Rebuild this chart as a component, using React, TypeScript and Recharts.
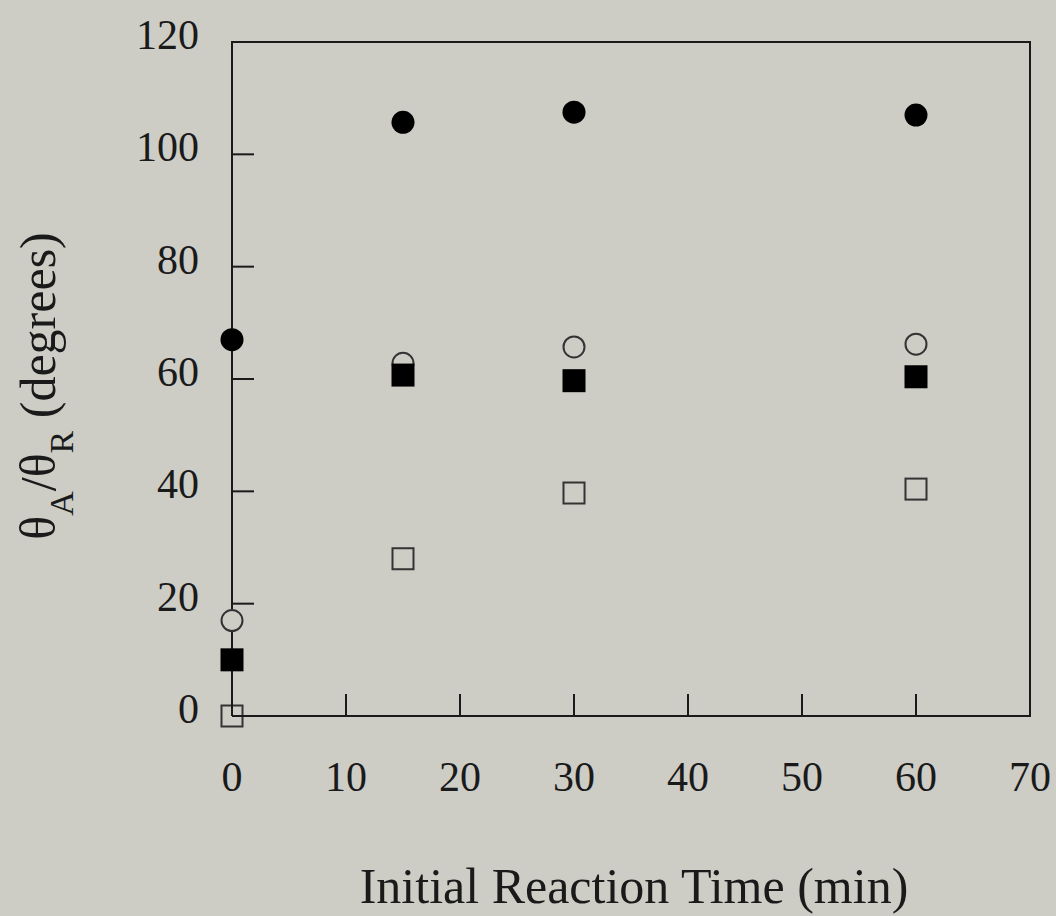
import React from 'react';
import { ScatterChart, Scatter, XAxis, YAxis, ReferenceArea } from 'recharts';

const times = [0, 15, 30, 60];
const filledCircles = [67, 105.7, 107.5, 107];
const openCircles = [17, 62.8, 65.7, 66.2];
const filledSquares = [10, 60.7, 59.7, 60.4];
const openSquares = [0, 28, 39.7, 40.4];
const xTicks = [0, 10, 20, 30, 40, 50, 60, 70];
const yTicks = [0, 20, 40, 60, 80, 100, 120];

const BG = '#cdcdc6';
const INK = '#1a1a1a';
const FONT = '"Liberation Serif", "Times New Roman", serif';

const toPoints = (vals: number[]) => times.map((t, i) => ({ t, v: vals[i] }));

const FilledCircle = (p: any) => <circle cx={p.cx} cy={p.cy} r={11.5} fill="#000" />;
const OpenCircle = (p: any) => <circle cx={p.cx} cy={p.cy} r={10.5} fill={BG} stroke="#333" strokeWidth={2} />;
const FilledSquare = (p: any) => <rect x={p.cx - 11.5} y={p.cy - 11.5} width={23} height={23} fill="#000" />;
const OpenSquare = (p: any) => (
  <rect x={p.cx - 10.5} y={p.cy - 10.5} width={21} height={21} fill={BG} stroke="#333" strokeWidth={2} />
);

// inward ticks: line starts back at the axis, label sits outside
const YTick = (p: any) => (
  <g>
    <line x1={p.x + 33} x2={p.x + 55} y1={p.y} y2={p.y} stroke={INK} strokeWidth={2} />
    <text x={p.x} y={p.y - 8} dy="0.36em" textAnchor="end" fontSize={42} fontFamily={FONT} fill={INK}>
      {p.payload.value}
    </text>
  </g>
);

const XTick = (p: any) => (
  <g>
    <line x1={p.x} x2={p.x} y1={p.y - 45} y2={p.y - 67} stroke={INK} strokeWidth={2} />
    <text x={p.x} y={p.y} dy="0.71em" textAnchor="middle" fontSize={42} fontFamily={FONT} fill={INK}>
      {p.payload.value}
    </text>
  </g>
);

const YLabel = () => (
  <text transform="translate(55, 386) rotate(-90)" textAnchor="middle" fontSize={50} fontFamily={FONT} fill={INK}>
    θ<tspan fontSize={34} dy={18}>A</tspan>
    <tspan dy={-18}>/θ</tspan>
    <tspan fontSize={34} dy={18}>R</tspan>
    <tspan dy={-18}> (degrees)</tspan>
  </text>
);

const XLabel = () => (
  <text x={634} y={903} textAnchor="middle" fontSize={50} fontFamily={FONT} fill={INK}>
    Initial Reaction Time (min)
  </text>
);

export default function App() {
  return (
    <div style={{ position: 'fixed', left: 0, top: 0, width: 1056, height: 916, background: BG }}>
      <ScatterChart width={1056} height={916} margin={{ top: 42, right: 26, bottom: 0, left: 0 }}>
        <XAxis
          type="number"
          dataKey="t"
          domain={[0, 70]}
          ticks={xTicks}
          interval={0}
          stroke={INK}
          strokeWidth={2}
          tickLine={false}
          tickSize={0}
          tickMargin={45}
          height={200}
          tick={<XTick />}
          label={{ content: () => <XLabel /> }}
        />
        <YAxis
          type="number"
          dataKey="v"
          domain={[0, 120]}
          ticks={yTicks}
          interval={0}
          stroke={INK}
          strokeWidth={2}
          tickLine={false}
          tickSize={0}
          tickMargin={33}
          width={232}
          tick={<YTick />}
          label={{ content: () => <YLabel /> }}
        />
        <ReferenceArea x1={0} x2={70} y1={0} y2={120} fill="none" stroke={INK} strokeWidth={2} fillOpacity={0} />
        <Scatter data={toPoints(filledCircles)} shape={FilledCircle} isAnimationActive={false} />
        <Scatter data={toPoints(openCircles)} shape={OpenCircle} isAnimationActive={false} />
        <Scatter data={toPoints(filledSquares)} shape={FilledSquare} isAnimationActive={false} />
        <Scatter data={toPoints(openSquares)} shape={OpenSquare} isAnimationActive={false} />
      </ScatterChart>
    </div>
  );
}
